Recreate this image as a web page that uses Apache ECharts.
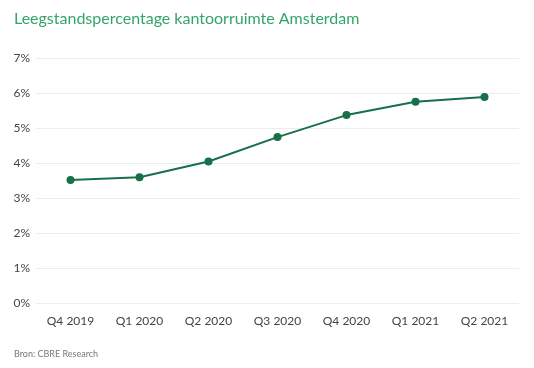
<!DOCTYPE html>
<html><head><meta charset="utf-8">
<script src="https://cdn.jsdelivr.net/npm/echarts@6/dist/echarts.min.js"></script>
<style>html,body{margin:0;padding:0;background:#fff}#c{width:534px;height:368px}</style>
</head><body><div id="c"></div>
<script>
const categories = ['Q4 2019','Q1 2020','Q2 2020','Q3 2020','Q4 2020','Q1 2021','Q2 2021'];
const vacancy = [3.52, 3.60, 4.05, 4.75, 5.38, 5.76, 5.90];
const yTicks = [0,1,2,3,4,5,6,7];
const titleText = 'Leegstandspercentage kantoorruimte Amsterdam';
const sourceText = 'Bron: CBRE Research';

const chart = echarts.init(document.getElementById('c'));
chart.setOption({
  animation:false,
  title:[
    {text:titleText,left:9,top:6,textStyle:{color:'#34a56a',fontSize:16,fontWeight:'normal',fontFamily:'Lato'}},
    {text:sourceText,left:9,top:345,textStyle:{color:'#777',fontSize:9,fontWeight:'normal',fontFamily:'Lato'}}
  ],
  grid:{left:36,right:15,top:58.5,bottom:65},
  xAxis:{type:'category',data:categories,boundaryGap:true,
    axisLine:{show:false},axisTick:{show:false},
    axisLabel:{color:'#444',fontSize:12,margin:12,fontFamily:'Lato'}},
  yAxis:{type:'value',min:yTicks[0],max:yTicks[yTicks.length-1],interval:1,
    axisLabel:{formatter:'{value}%',color:'#444',fontSize:12,margin:6,fontFamily:'Lato'},
    splitLine:{lineStyle:{color:'#ececec',width:1}},
    axisLine:{show:false},axisTick:{show:false}},
  series:[{type:'line',data:vacancy,symbol:'circle',symbolSize:8,
    lineStyle:{color:'#17704a',width:2},itemStyle:{color:'#17704a'}}]
});
</script></body></html>
